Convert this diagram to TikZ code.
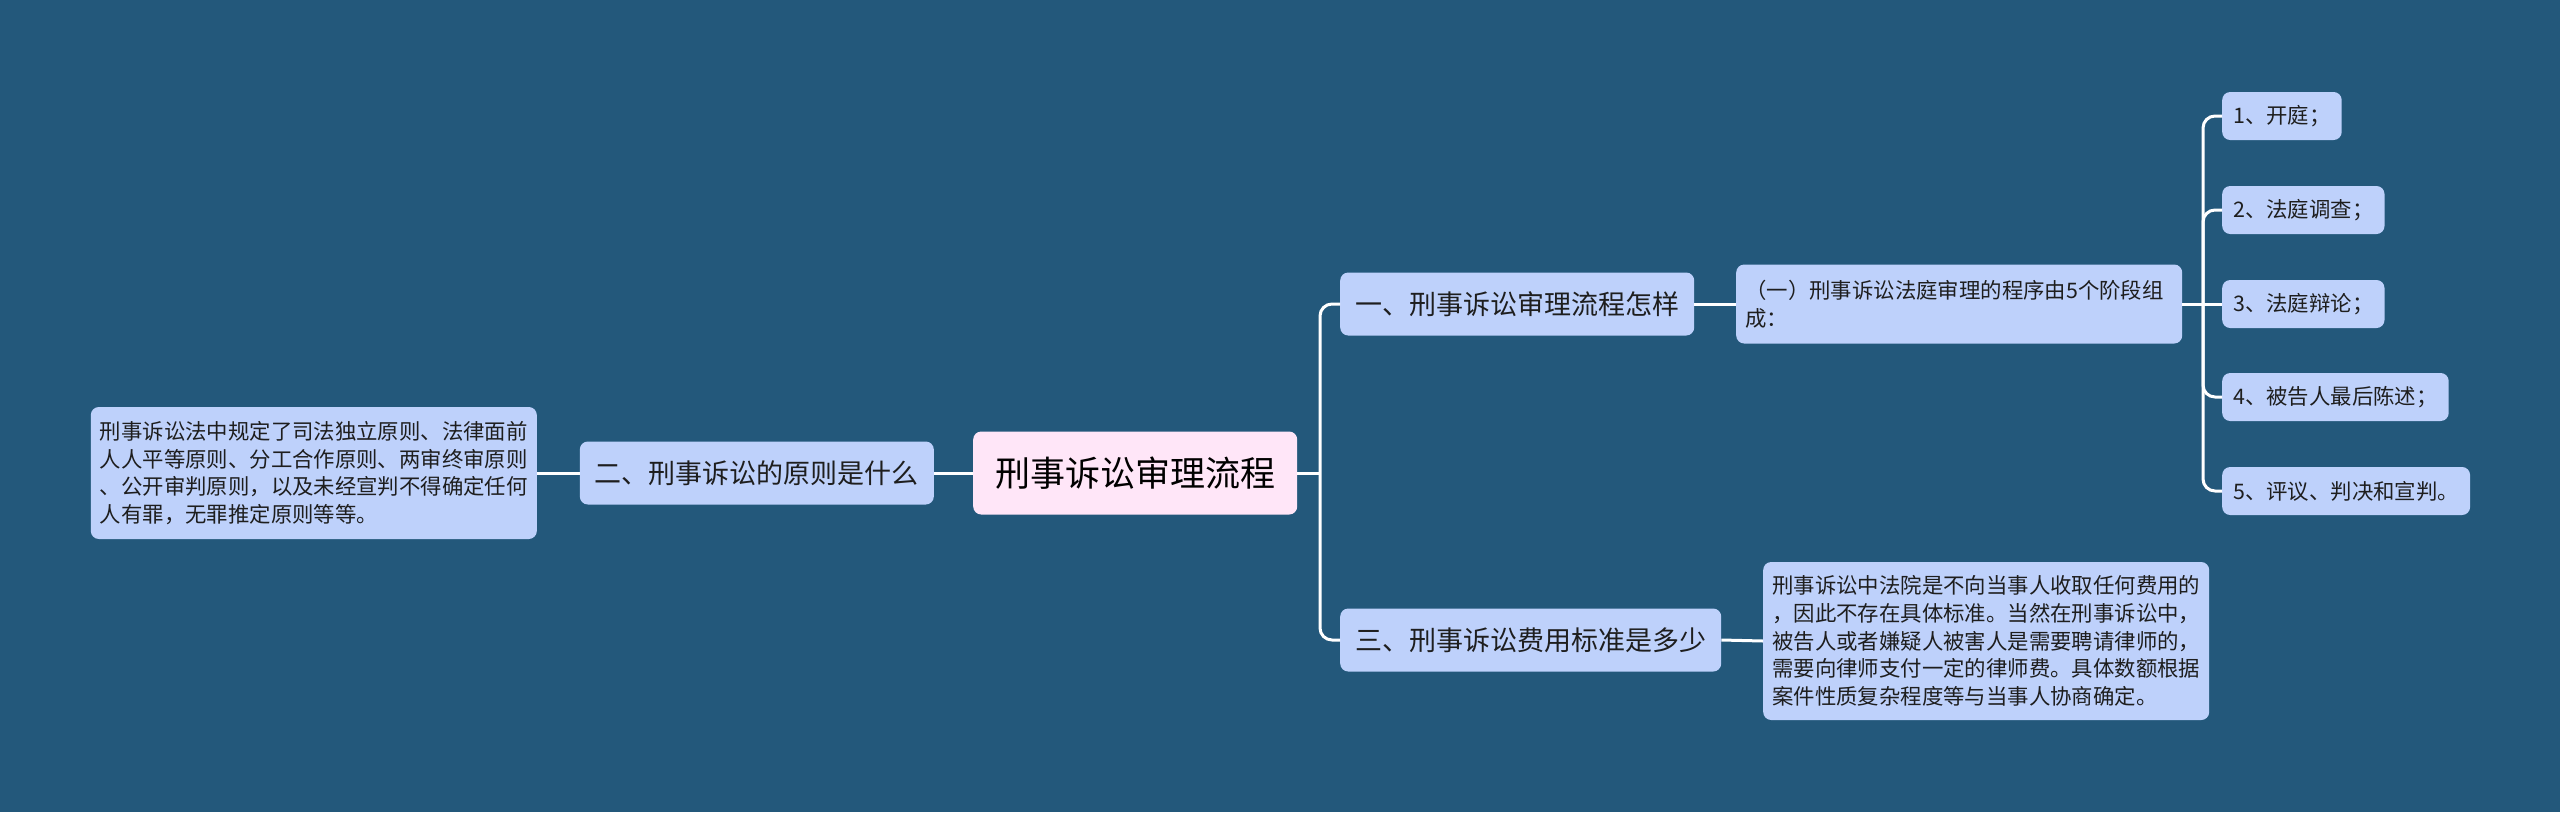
\documentclass[tikz,border=0pt]{standalone}
\usepackage{fontspec}
\newfontfamily\cjk{Noto Sans CJK SC}
\definecolor{bg}{RGB}{35,88,123}
\definecolor{nodefill}{RGB}{190,209,251}
\definecolor{rootfill}{RGB}{255,230,248}
\definecolor{txt}{RGB}{30,30,30}
\begin{document}
\begin{tikzpicture}[x=1pt,y=-1pt,
  box/.style={fill=nodefill, rounded corners=8pt, text=txt, align=left, anchor=west},
  rootbox/.style={box, fill=rootfill, font=\cjk\fontsize{35}{40}\selectfont, minimum height=83pt, inner xsep=22pt, text=black},
  mainbox/.style={box, font=\cjk\fontsize{27}{32}\selectfont, minimum height=63pt, inner xsep=15pt},
  leafbox/.style={box, font=\cjk\fontsize{21.4}{27.8}\selectfont, inner xsep=9pt, text width=428pt},
  itembox/.style={box, font=\cjk\fontsize{21.4}{26}\selectfont, minimum height=48pt, inner xsep=11pt},
  conn/.style={draw=white, line width=3pt},
  rconn/.style={conn, rounded corners=12pt}]
\fill[bg] (0,0) rectangle (2560,812);
\useasboundingbox (0,0) rectangle (2560,812);

\node[rootbox] (root) at (973,473) {刑事诉讼审理流程};
\node[mainbox, anchor=east] (n2) at (934,473) {二、刑事诉讼的原则是什么};
\node[leafbox, anchor=east, minimum height=132pt] (l2) at (537,473) {刑事诉讼法中规定了司法独立原则、法律面前\\人人平等原则、分工合作原则、两审终审原则\\、公开审判原则，以及未经宣判不得确定任何\\人有罪，无罪推定原则等等。};

\node[mainbox] (n1) at (1340,304) {一、刑事诉讼审理流程怎样};
\node[leafbox, minimum height=79pt] (s1) at (1736,304) {（一）刑事诉讼法庭审理的程序由5个阶段组\\成：};

\node[mainbox] (n3) at (1340,640) {三、刑事诉讼费用标准是多少};
\node[leafbox, minimum height=158pt] (l3) at (1763,641) {刑事诉讼中法院是不向当事人收取任何费用的\\，因此不存在具体标准。当然在刑事诉讼中，\\被告人或者嫌疑人被害人是需要聘请律师的，\\需要向律师支付一定的律师费。具体数额根据\\案件性质复杂程度等与当事人协商确定。};

\node[itembox] (i1) at (2222,116) {1、开庭；};
\node[itembox] (i2) at (2222,210) {2、法庭调查；};
\node[itembox] (i3) at (2222,304) {3、法庭辩论；};
\node[itembox] (i4) at (2222,397) {4、被告人最后陈述；};
\node[itembox] (i5) at (2222,491) {5、评议、判决和宣判。};

\coordinate (jr) at (1320,473);
\coordinate (ji) at (2203,304);

\draw[conn] (root.east) -- (jr);
\draw[rconn] (n1.west) -| (jr) |- (n3.west);
\draw[conn] (root.west) -- (n2.east);
\draw[conn] (n2.west) -- (l2.east);
\draw[conn] (n1.east) -- (s1.west);
\draw[conn] (n3.east) -- (l3.west);
\draw[conn] (s1.east) -- (i3.west);
\draw[rconn] (i1.west) -| (ji) |- (i5.west);
\draw[rconn] (ji) |- (i2.west);
\draw[rconn] (ji) |- (i4.west);
\end{tikzpicture}
\end{document}
